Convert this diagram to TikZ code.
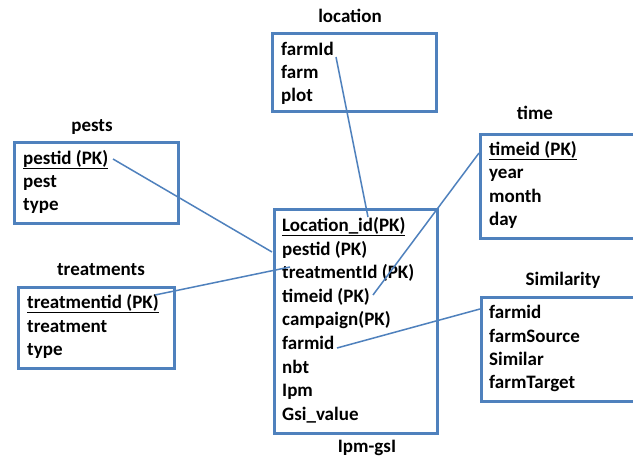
\documentclass[tikz,border=0pt]{standalone}
\usepackage{fontspec}
\setmainfont{Carlito}
\definecolor{boxblue}{HTML}{4F81BD}
\begin{document}
\begin{tikzpicture}[x=1pt,y=-1pt,
  tbl/.style={draw=boxblue, line width=3pt, rectangle, inner sep=0pt, anchor=north west},
  row/.style={anchor=base west, inner sep=0pt, font=\fontsize{19}{22}\selectfont\bfseries},
  ttl/.style={inner sep=0pt, font=\fontsize{19}{22}\selectfont\bfseries},
  link/.style={draw=boxblue, line width=1.5pt}]
\clip (0,0) rectangle (633,461);
\fill[white] (0,0) rectangle (633,461);
% location
\node[tbl, minimum width=164pt, minimum height=78pt] (loc) at (271,32) {};
\node[ttl] (locT) at (350,16) {location};
\node[row] (loc1) at (281,55) {farmId};
\node[row] (loc2) at (281,78) {farm};
\node[row] (loc3) at (281,101) {plot};
% Ipm-gsi
\node[tbl, minimum width=163pt, minimum height=224pt] (ipm) at (273,208) {};
\node[ttl] (ipmT) at (367,448) {Ipm-gsI};
\node[row] (ipm1) at (282,231) {\underline{Location\_id(PK)}};
\node[row] (ipm2) at (282,255) {pestid (PK)};
\node[row] (ipm3) at (282,278) {treatmentId (PK)};
\node[row] (ipm4) at (282,302) {timeid (PK)};
\node[row] (ipm5) at (282,325) {campaign(PK)};
\node[row] (ipm6) at (282,349) {farmid};
\node[row] (ipm7) at (282,373) {nbt};
\node[row] (ipm8) at (282,396) {Ipm};
\node[row] (ipm9) at (282,420) {Gsi\_value};
% pests
\node[tbl, minimum width=164pt, minimum height=81pt] (pst) at (13,141) {};
\node[ttl] (pstT) at (92,127) {pests};
\node[row] (pst1) at (23,164) {\underline{pestid (PK)}};
\node[row] (pst2) at (23,187) {pest};
\node[row] (pst3) at (23,210) {type};
% treatments
\node[tbl, minimum width=156pt, minimum height=81pt] (trt) at (17,286) {};
\node[ttl] (trtT) at (101,270) {treatments};
\node[row] (trt1) at (27,308) {\underline{treatmentid (PK)}};
\node[row] (trt2) at (27,332) {treatment};
\node[row] (trt3) at (27,355) {type};
% time
\node[tbl, minimum width=180pt, minimum height=104pt] (tim) at (479,133) {};
\node[ttl] (timT) at (535,113) {time};
\node[row] (tim1) at (489,155) {\underline{timeid (PK)}};
\node[row] (tim2) at (489,178) {year};
\node[row] (tim3) at (489,202) {month};
\node[row] (tim4) at (489,225) {day};
% Similarity
\node[tbl, minimum width=180pt, minimum height=104pt] (sim) at (480,296) {};
\node[ttl] (simT) at (563,280) {Similarity};
\node[row] (sim1) at (489,318) {farmid};
\node[row] (sim2) at (489,342) {farmSource};
\node[row] (sim3) at (489,365) {Similar};
\node[row] (sim4) at (489,388) {farmTarget};
% connector end points
\coordinate (cLocA) at (336,57);
\coordinate (cLocB) at (368,217);
\coordinate (cPstA) at (113,159);
\coordinate (cPstB) at (272,252);
\coordinate (cTrtA) at (155,295);
\coordinate (cTrtB) at (290,267);
\coordinate (cTimA) at (479,153);
\coordinate (cTimB) at (373,295);
\coordinate (cSimA) at (480,309);
\coordinate (cSimB) at (337,348);
\draw[link] (cLocA) -- (cLocB);
\draw[link] (cPstA) -- (cPstB);
\draw[link] (cTrtA) -- (cTrtB);
\draw[link] (cTimA) -- (cTimB);
\draw[link] (cSimA) -- (cSimB);
\end{tikzpicture}
\end{document}
